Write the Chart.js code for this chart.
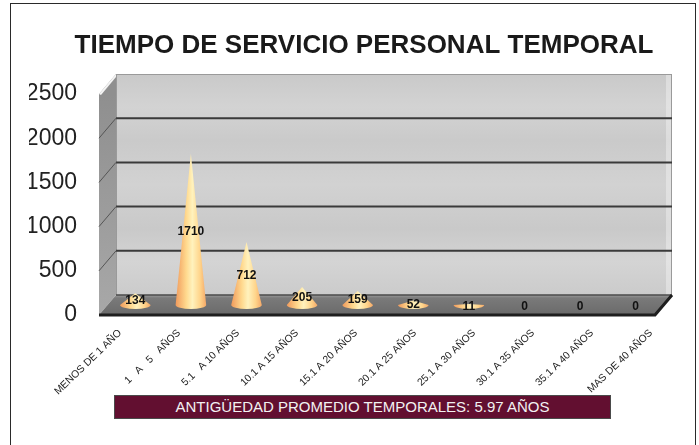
<!DOCTYPE html>
<html><head><meta charset="utf-8">
<script src="https://cdn.jsdelivr.net/npm/chart.js@4.4.1/dist/chart.umd.min.js"></script>
<style>
html,body{margin:0;padding:0;background:#fff;}
#wrap{position:relative;width:699px;height:445px;overflow:hidden;}
#frame{position:absolute;left:10px;top:3px;width:686px;height:470px;border:1.5px solid #2a2a2a;box-sizing:border-box;pointer-events:none;}
#note{position:absolute;left:114px;top:395px;width:497px;height:24px;box-sizing:border-box;background:#620f30;border:1.5px solid #4a4a4a;color:#f2f2f2;font:15px "Liberation Sans",Arial,sans-serif;text-align:center;line-height:21px;white-space:nowrap;}
canvas{position:absolute;left:0;top:0;}
</style></head><body>
<div id="wrap"><canvas id="c" width="699" height="445"></canvas><div id="frame"></div><div id="note">ANTIGÜEDAD PROMEDIO TEMPORALES: 5.97 AÑOS</div></div>
<script>
const categories = ['MENOS DE 1 AÑO','1   A   5   AÑOS','5.1   A 10 AÑOS','10.1 A 15 AÑOS','15.1 A 20 AÑOS','20.1 A 25 AÑOS','25.1 A 30 AÑOS','30.1 A 35 AÑOS','35.1 A 40 AÑOS','MAS DE 40 AÑOS'];
const personal = [134,1710,712,205,159,52,11,0,0,0];
const yTicks = [0,500,1000,1500,2000,2500];
const titleText = 'TIEMPO DE SERVICIO PERSONAL TEMPORAL';

const FONT = "'Liberation Sans', Arial, sans-serif";
const DX = 17, DY = -20;

const depth3d = {
  id: 'depth3d',
  beforeDatasetsDraw(chart) {
    const {ctx, chartArea: a, scales: {y}} = chart;
    const L = a.left, R = a.right;
    const T = y.getPixelForValue(yTicks[yTicks.length-1]), B = y.getPixelForValue(0);
    ctx.save();
    // back wall
    let g = ctx.createLinearGradient(0, T+DY, 0, B+DY);
    g.addColorStop(0, '#c9c9c9'); g.addColorStop(0.15, '#d3d3d3'); g.addColorStop(0.3, '#cacaca');
    g.addColorStop(0.5, '#d2d2d2'); g.addColorStop(0.7, '#c9c9c9'); g.addColorStop(0.85, '#d4d4d4'); g.addColorStop(1, '#cbcbcb');
    ctx.fillStyle = g;
    ctx.fillRect(L+DX, T+DY, R-L, B-T);
    ctx.fillStyle = 'rgba(255,255,255,0.35)';
    ctx.fillRect(R+DX-6, T+DY, 6, B-T);
    ctx.strokeStyle = '#9a9a9a'; ctx.lineWidth = 1;
    ctx.strokeRect(L+DX+0.5, T+DY+0.5, R-L-1, B-T);
    // left wall
    g = ctx.createLinearGradient(0, T, 0, B);
    g.addColorStop(0, '#8f8f8f'); g.addColorStop(1, '#a8a8a8');
    ctx.fillStyle = g;
    ctx.beginPath(); ctx.moveTo(L, T); ctx.lineTo(L+DX, T+DY); ctx.lineTo(L+DX, B+DY); ctx.lineTo(L, B); ctx.closePath(); ctx.fill();
    ctx.fillStyle = '#f4f4f4';
    ctx.beginPath(); ctx.moveTo(L, T); ctx.lineTo(L+DX, T+DY); ctx.lineTo(L+DX, T+DY+3); ctx.lineTo(L+2, T+1); ctx.closePath(); ctx.fill();
    // floor
    g = ctx.createLinearGradient(0, B+DY, 0, B);
    g.addColorStop(0, '#9c9c9c'); g.addColorStop(0.15, '#7a7a7a'); g.addColorStop(1, '#6a6a6a');
    ctx.fillStyle = g;
    ctx.beginPath(); ctx.moveTo(L, B); ctx.lineTo(R, B); ctx.lineTo(R+DX, B+DY); ctx.lineTo(L+DX, B+DY); ctx.closePath(); ctx.fill();
    // gridlines
    yTicks.forEach(v => {
      if (v === 0 || v === yTicks[yTicks.length-1]) return;
      const p = y.getPixelForValue(v);
      ctx.strokeStyle = '#3a3a3a'; ctx.lineWidth = 2;
      ctx.beginPath(); ctx.moveTo(L+DX, p+DY); ctx.lineTo(R+DX, p+DY); ctx.stroke();
      ctx.strokeStyle = '#555'; ctx.lineWidth = 1;
      ctx.beginPath(); ctx.moveTo(L, p); ctx.lineTo(L+DX, p+DY); ctx.stroke();
    });
    ctx.strokeStyle = '#4a4a4a'; ctx.lineWidth = 1.5;
    ctx.beginPath(); ctx.moveTo(L+DX, B+DY); ctx.lineTo(R+DX, B+DY); ctx.stroke();
    ctx.strokeStyle = '#1e1e1e'; ctx.lineWidth = 3;
    ctx.beginPath(); ctx.moveTo(L, B); ctx.lineTo(R, B); ctx.lineTo(R+DX, B+DY); ctx.stroke();
    ctx.restore();
  },
  afterDatasetsDraw(chart) {
    const {ctx} = chart;
    const meta = chart.getDatasetMeta(0);
    ctx.save();
    meta.data.forEach((bar, i) => {
      const v = personal[i];
      const cx = bar.x + DX/2, top = bar.y + DY/2, base = bar.base + DY/2;
      const hw = bar.width/2;
      if (v > 0) {
        const g = ctx.createLinearGradient(cx-hw, 0, cx+hw, 0);
        g.addColorStop(0, '#f09a5c'); g.addColorStop(0.35, '#ffd98e');
        g.addColorStop(0.55, '#fff2bd'); g.addColorStop(0.8, '#ffd48a'); g.addColorStop(1, '#f4a868');
        ctx.fillStyle = g;
        ctx.beginPath();
        ctx.moveTo(cx-hw, base);
        ctx.lineTo(cx, top);
        ctx.lineTo(cx+hw, base);
        ctx.ellipse(cx, base, hw, 4, 0, 0, Math.PI);
        ctx.closePath();
        ctx.fill();
      }
      ctx.fillStyle = '#111';
      ctx.font = 'bold 12px ' + FONT;
      ctx.textAlign = 'center'; ctx.textBaseline = 'middle';
      ctx.fillText(String(v), cx, (top+base)/2 + 2);
    });
    ctx.restore();
  }
};

new Chart(document.getElementById('c'), {
  type: 'bar',
  data: {
    labels: categories,
    datasets: [{
      data: personal,
      backgroundColor: 'rgba(0,0,0,0)',
      borderWidth: 0,
      categoryPercentage: 1,
      barPercentage: 0.55
    }]
  },
  options: {
    responsive: false,
    animation: false,
    layout: {padding: {left: 29, right: 0, top: 10, bottom: 50}},
    plugins: {
      legend: {display: false},
      tooltip: {enabled: false},
      title: {
        display: true,
        text: titleText,
        color: '#1a1a1a',
        font: {family: FONT, size: 26, weight: 'bold', lineHeight: 1.2},
        padding: {top: 20.4, bottom: 32.4}
      }
    },
    scales: {
      x: {
        display: false
      },
      xLabels: {
        type: 'linear',
        position: 'bottom',
        offset: false,
        min: -0.356, max: 9.068,
        grid: {display: false, offset: false},
        border: {display: false},
        afterBuildTicks(s) { s.ticks = categories.map((c, i) => ({value: i})); },
        ticks: {
          autoSkip: false, minRotation: 44, maxRotation: 44, padding: 4,
          color: '#222', font: {family: FONT, size: 10.3},
          callback: (v) => categories[v]
        },
        afterFit(s) { s.height = 80; }
      },
      y: {
        min: 0, max: 2500,
        grid: {display: false, drawTicks: false},
        border: {display: false},
        afterBuildTicks(s) { s.ticks = yTicks.map(v => ({value: v})); },
        ticks: {padding: 22, color: '#222', font: {family: FONT, size: 23}, callback: (v) => String(v)},
        afterFit(s) { s.width = 70; }
      },
      y2: {
        position: 'right',
        grid: {display: false},
        border: {display: false},
        ticks: {display: false},
        afterFit(s) { s.width = 44; }
      }
    }
  },
  plugins: [depth3d]
});
</script>
</body></html>
